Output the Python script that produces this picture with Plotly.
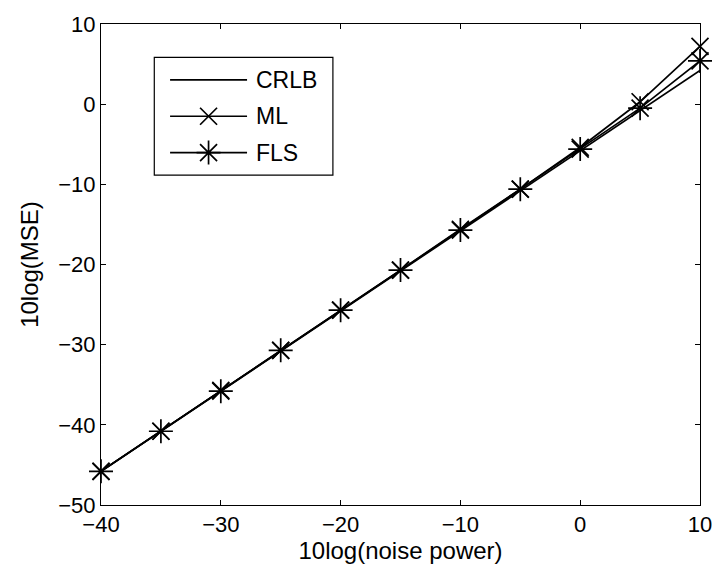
import plotly.graph_objects as go

noise_db = [-40, -35, -30, -25, -20, -15, -10, -5, 0, 5, 10]
crlb = [-45.8, -40.8, -35.8, -30.8, -25.8, -20.8, -15.8, -10.8, -5.8, -0.8, 4.2]
ml = [-45.8, -40.8, -35.7, -30.7, -25.7, -20.7, -15.6, -10.6, -5.4, 0.3, 7.2]
fls = [-45.8, -40.8, -35.8, -30.7, -25.7, -20.7, -15.7, -10.6, -5.6, -0.5, 5.4]
series_names = ["CRLB", "ML", "FLS"]
x_ticks = [-40, -30, -20, -10, 0, 10]
y_ticks = [-50, -40, -30, -20, -10, 0, 10]

W, H = 724, 575
L, R, T, B = 101, 708, 15, 505
FONT = "Liberation Sans, Arial, Helvetica, sans-serif"

fig = go.Figure()
line = dict(color="black", width=1.7)
fig.add_trace(go.Scatter(x=noise_db, y=crlb, mode="lines", line=line, showlegend=False,
                         cliponaxis=False))
fig.add_trace(go.Scatter(x=noise_db, y=ml, mode="lines+markers", line=line, cliponaxis=False,
                         marker=dict(symbol="x-thin", size=17, color="black",
                                     line=dict(color="black", width=1.7)),
                         showlegend=False))
fig.add_trace(go.Scatter(x=noise_db, y=fls, mode="lines+markers", line=line, cliponaxis=False,
                         marker=dict(symbol="asterisk", size=20, color="black",
                                     line=dict(color="black", width=1.7)),
                         showlegend=False))

def px(xp):
    return (xp - L) / (R - L)
def py(yp):
    return (B - yp) / (B - T)

box = dict(x0=155, x1=336, y0=49, y1=169)
rows_y = [72, 109, 146]
lx0, lx1, mx, tx = 171, 249, 210, 256
fig.add_shape(type="rect", xref="paper", yref="paper",
              x0=px(box["x0"]), x1=px(box["x1"]), y0=py(box["y1"]), y1=py(box["y0"]),
              line=dict(color="black", width=1.2), fillcolor="rgba(0,0,0,0)", layer="above")
symbols = [None, "x-thin", "asterisk"]
sizes = [0, 17, 20]
for name, yy, sym, sz in zip(series_names, rows_y, symbols, sizes):
    fig.add_shape(type="line", xref="paper", yref="paper",
                  x0=px(lx0), x1=px(lx1), y0=py(yy), y1=py(yy),
                  line=dict(color="black", width=1.7), layer="above")
    fig.add_annotation(x=px(tx), y=py(yy), xref="paper", yref="paper", text=name,
                       showarrow=False, xanchor="left", yanchor="middle",
                       font=dict(family=FONT, size=23, color="black"))
    if sym:
        fig.add_trace(go.Scatter(x=[px(mx)], y=[py(yy)], xaxis="x2", yaxis="y2", mode="markers",
                                 marker=dict(symbol=sym, size=sz, color="black",
                                             line=dict(color="black", width=1.7)),
                                 showlegend=False, hoverinfo="skip"))

axis_common = dict(showgrid=False, zeroline=False, showline=True, linecolor="black", linewidth=1,
                   mirror="allticks", ticks="inside", ticklen=5, tickcolor="black",
                   tickfont=dict(family=FONT, size=22, color="black"))
fig.update_layout(
    width=W, height=H,
    margin=dict(l=L, r=W - R, t=T, b=H - B),
    paper_bgcolor="white", plot_bgcolor="white",
    xaxis=dict(range=[-40, 10], tickvals=x_ticks, ticktext=[str(v).replace("-", "\u2212") for v in x_ticks],
               title=dict(text="10log(noise power)", font=dict(family=FONT, size=24, color="black"), standoff=2),
               **axis_common),
    yaxis=dict(range=[-50, 10], tickvals=y_ticks, ticktext=[str(v).replace("-", "\u2212") for v in y_ticks],
               title=dict(text="10log(MSE)", font=dict(family=FONT, size=24, color="black"), standoff=12),
               **axis_common),
    xaxis2=dict(range=[0, 1], overlaying="x", visible=False, fixedrange=True),
    yaxis2=dict(range=[0, 1], overlaying="y", visible=False, fixedrange=True),
    showlegend=False,
)
fig.write_html("out.html")
